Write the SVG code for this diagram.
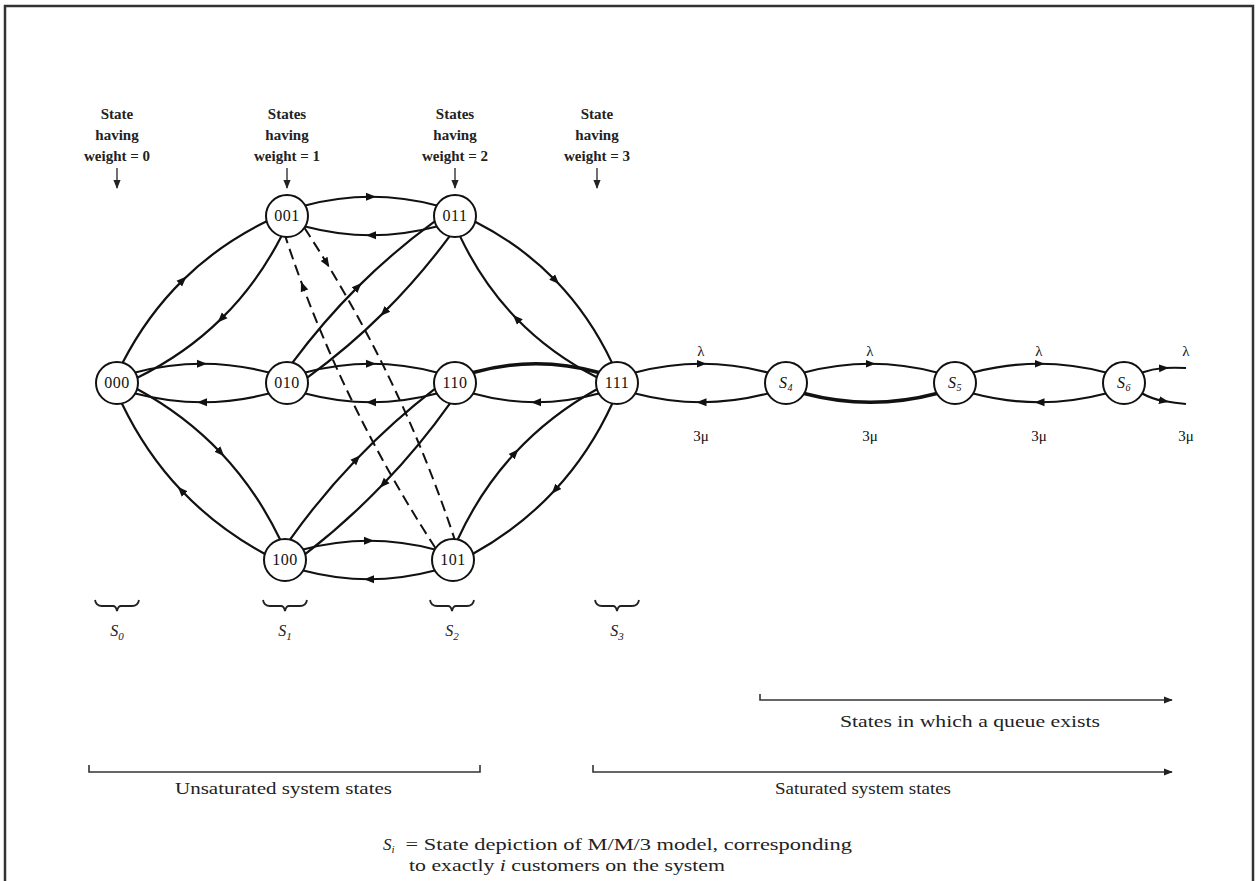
<svg xmlns="http://www.w3.org/2000/svg" width="1256" height="881" viewBox="0 0 1256 881">
<defs>
<marker id="ah" viewBox="0 0 10 10" refX="5" refY="5" markerWidth="10" markerHeight="10" markerUnits="userSpaceOnUse" orient="auto">
<path d="M0,1 L10,5 L0,9 z" fill="#111"/>
</marker>
<marker id="ahEnd" viewBox="0 0 10 10" refX="9" refY="5" markerWidth="9" markerHeight="9" markerUnits="userSpaceOnUse" orient="auto">
<path d="M0,1 L10,5 L0,9 z" fill="#222"/>
</marker>
<style>
.e{fill:none;stroke:#111;stroke-width:2.2;marker-mid:url(#ah)}
.eb{fill:none;stroke:#111;stroke-width:3.4}
.d{fill:none;stroke:#111;stroke-width:2;stroke-dasharray:11 6;marker-mid:url(#ah)}
.n circle{fill:#fff;stroke:#111;stroke-width:2}
.n text{font-family:"Liberation Serif",serif;font-size:16px;letter-spacing:0.5px;text-anchor:middle;fill:#111}
.hd{font-family:"Liberation Serif",serif;font-size:15px;font-weight:bold;text-anchor:middle;fill:#222}
.lb{font-family:"Liberation Serif",serif;font-size:15px;text-anchor:middle;fill:#111}
.big{font-family:"Liberation Serif",serif;font-size:17px;fill:#222}
.st{font-family:"Liberation Serif",serif;font-size:17px;text-anchor:start;fill:#222}
.sm{font-family:"Liberation Serif",serif;font-size:16px;text-anchor:middle;fill:#222}
.pt{fill:none;stroke:#222;stroke-width:1.3}
.br{fill:none;stroke:#222;stroke-width:1.8}
.ax{fill:none;stroke:#333;stroke-width:1.6}
</style>
</defs>
<rect width="1256" height="881" fill="#fff"/>
<path d="M5,881 V6 H1253 V881" fill="none" stroke="#333" stroke-width="2.5"/>

<g id="headers">
<text class="hd" x="117" y="119">State</text>
<text class="hd" x="117" y="140">having</text>
<text class="hd" x="117" y="161">weight = 0</text>
<text class="hd" x="287" y="119">States</text>
<text class="hd" x="287" y="140">having</text>
<text class="hd" x="287" y="161">weight = 1</text>
<text class="hd" x="455" y="119">States</text>
<text class="hd" x="455" y="140">having</text>
<text class="hd" x="455" y="161">weight = 2</text>
<text class="hd" x="597" y="119">State</text>
<text class="hd" x="597" y="140">having</text>
<text class="hd" x="597" y="161">weight = 3</text>
<path class="pt" d="M117,168 V188" marker-end="url(#ahEnd)"/>
<path class="pt" d="M287,168 V188" marker-end="url(#ahEnd)"/>
<path class="pt" d="M455,168 V188" marker-end="url(#ahEnd)"/>
<path class="pt" d="M597,168 V188" marker-end="url(#ahEnd)"/>
</g>

<g id="connectors">
<path class="e" d="M122.6,362.8 Q146.9,315.4 182.9,280.1 Q218.9,244.7 266.7,221.3"/>
<path class="e" d="M281.4,236.2 Q257.1,283.6 221.1,318.9 Q185.1,354.3 137.3,377.7"/>
<path class="e" d="M135.2,372.5 Q168.6,363.75 202,363.75 Q235.4,363.75 268.8,372.5"/>
<path class="e" d="M268.8,393.5 Q235.4,402.25 202,402.25 Q168.6,402.25 135.2,393.5"/>
<path class="e" d="M137.1,389 Q185,415.1 220.8,452.7 Q256.5,490.4 280.1,539.6"/>
<path class="e" d="M264.9,554 Q217,527.9 181.2,490.3 Q145.5,452.6 121.9,403.4"/>
<path class="e" d="M305.2,205.5 Q338.1,196.75 371,196.75 Q403.9,196.75 436.8,205.5"/>
<path class="e" d="M436.8,226.5 Q403.9,235.25 371,235.25 Q338.1,235.25 305.2,226.5"/>
<path class="e" d="M305.2,372.5 Q338.1,363.75 371,363.75 Q403.9,363.75 436.8,372.5"/>
<path class="e" d="M436.8,393.5 Q403.9,402.25 371,402.25 Q338.1,402.25 305.2,393.5"/>
<path class="e" d="M303.2,549.5 Q336.1,540.75 369,540.75 Q401.9,540.75 434.8,549.5"/>
<path class="e" d="M434.8,570.5 Q401.9,579.25 369,579.25 Q336.1,579.25 303.2,570.5"/>
<path class="eb" d="M473.2,372.5 Q504.6,363.75 536,363.75 Q567.4,363.75 598.8,372.5"/>
<path class="e" d="M598.8,393.5 Q567.4,402.25 536,402.25 Q504.6,402.25 473.2,393.5"/>
<path class="e" d="M475.2,221.7 Q521.4,245.3 555.6,280.5 Q589.7,315.8 611.9,362.6"/>
<path class="e" d="M596.8,377.3 Q550.6,353.7 516.4,318.5 Q482.3,283.2 460.1,236.4"/>
<path class="e" d="M457.7,539.5 Q480.2,490.6 515,453 Q549.8,415.4 596.9,389.2"/>
<path class="e" d="M612.3,403.5 Q589.8,452.5 555,490 Q520.2,527.6 473.1,553.8"/>
<path class="e" d="M292.5,362.7 Q322.6,321.9 358.1,286.6 Q393.7,251.2 434.7,221.4"/>
<path class="e" d="M449.5,236.3 Q419.4,277.1 383.9,312.4 Q348.3,347.8 307.3,377.6"/>
<path class="e" d="M290,539.6 Q320.6,496.6 356.8,458.9 Q393,421.2 434.8,388.9"/>
<path class="e" d="M450,403.4 Q419.4,446.5 383.2,484.1 Q347,521.8 305.2,554.2"/>
<path class="d" d="M304.4,227.8 Q315.8,245.3 326.7,263.1 Q406.3,393.5 454.6,539.1"/>
<path class="d" d="M435.6,548.2 Q354.6,424.2 302.8,286.1 Q293.7,261.8 285.5,236.9"/>
<path class="e" d="M635.2,372.5 Q668.3,363.75 701.5,363.75 Q734.7,363.75 767.8,372.5"/>
<path class="e" d="M767.8,393.5 Q734.7,402.25 701.5,402.25 Q668.3,402.25 635.2,393.5"/>
<path class="e" d="M804.2,372.5 Q837.3,363.75 870.5,363.75 Q903.7,363.75 936.8,372.5"/>
<path class="eb" d="M936.8,393.5 Q903.7,402.25 870.5,402.25 Q837.3,402.25 804.2,393.5"/>
<path class="e" d="M973.2,372.5 Q1006.3,363.75 1039.5,363.75 Q1072.7,363.75 1105.8,372.5"/>
<path class="e" d="M1105.8,393.5 Q1072.7,402.25 1039.5,402.25 Q1006.3,402.25 973.2,393.5"/>
<path class="e" d="M1142.2,372.5 Q1152,369 1164,368 Q1175,367.5 1186,368"/>
<path class="e" d="M1142.2,393.5 Q1152,399 1164,401 Q1175,403 1186,404"/>
</g>

<g id="rate-labels">
<text class="lb" x="701" y="356">λ</text>
<text class="lb" x="870" y="356">λ</text>
<text class="lb" x="1039" y="356">λ</text>
<text class="lb" x="1186" y="356">λ</text>
<text class="lb" x="701" y="441">3μ</text>
<text class="lb" x="870" y="441">3μ</text>
<text class="lb" x="1039" y="441">3μ</text>
<text class="lb" x="1186" y="441">3μ</text>
</g>

<g id="n000" class="n"><circle cx="117" cy="383" r="21"/><text x="117" y="388">000</text></g>
<g id="n001" class="n"><circle cx="287" cy="216" r="21"/><text x="287" y="221">001</text></g>
<g id="n010" class="n"><circle cx="287" cy="383" r="21"/><text x="287" y="388">010</text></g>
<g id="n100" class="n"><circle cx="285" cy="560" r="21"/><text x="285" y="565">100</text></g>
<g id="n011" class="n"><circle cx="455" cy="216" r="21"/><text x="455" y="221">011</text></g>
<g id="n110" class="n"><circle cx="455" cy="383" r="21"/><text x="455" y="388">110</text></g>
<g id="n101" class="n"><circle cx="453" cy="560" r="21"/><text x="453" y="565">101</text></g>
<g id="n111" class="n"><circle cx="617" cy="383" r="21"/><text x="617" y="388">111</text></g>
<g id="nS4" class="n"><circle cx="786" cy="383" r="21"/><text x="786" y="388" font-style="italic">S<tspan font-size="10" dy="3">4</tspan></text></g>
<g id="nS5" class="n"><circle cx="955" cy="383" r="21"/><text x="955" y="388" font-style="italic">S<tspan font-size="10" dy="3">5</tspan></text></g>
<g id="nS6" class="n"><circle cx="1124" cy="383" r="21"/><text x="1124" y="388" font-style="italic">S<tspan font-size="10" dy="3">6</tspan></text></g>

<g id="braces">
<path class="br" d="M95,600 Q96,606 102,606 H113 Q116,606 117,611 Q118,606 121,606 H132 Q138,606 139,600"/>
<path class="br" d="M263,600 Q264,606 270,606 H281 Q284,606 285,611 Q286,606 289,606 H300 Q306,606 307,600"/>
<path class="br" d="M430,600 Q431,606 437,606 H448 Q451,606 452,611 Q453,606 456,606 H467 Q473,606 474,600"/>
<path class="br" d="M595,600 Q596,606 602,606 H613 Q616,606 617,611 Q618,606 621,606 H632 Q638,606 639,600"/>
<text class="sm" x="117" y="636" font-style="italic">S<tspan font-size="11" dy="4">0</tspan></text>
<text class="sm" x="285" y="636" font-style="italic">S<tspan font-size="11" dy="4">1</tspan></text>
<text class="sm" x="452" y="636" font-style="italic">S<tspan font-size="11" dy="4">2</tspan></text>
<text class="sm" x="617" y="636" font-style="italic">S<tspan font-size="11" dy="4">3</tspan></text>
</g>

<g id="ranges">
<path class="ax" d="M760,694 V700 H1172" marker-end="url(#ahEnd)"/>
<text class="st" x="840" y="727" textLength="260" lengthAdjust="spacingAndGlyphs">States in which a queue exists</text>
<path class="ax" d="M89,765 V772 H480 V765"/>
<text class="st" x="175" y="794" textLength="217" lengthAdjust="spacingAndGlyphs">Unsaturated system states</text>
<path class="ax" d="M593,765 V772 H1172" marker-end="url(#ahEnd)"/>
<text class="st" x="775" y="794" textLength="176" lengthAdjust="spacingAndGlyphs">Saturated system states</text>
</g>

<g id="caption">
<text class="st" x="383" y="850"><tspan font-style="italic">S</tspan><tspan font-size="11" dy="3" font-style="italic">i</tspan><tspan dy="-3" x="400" textLength="452" lengthAdjust="spacingAndGlyphs"> = State depiction of M/M/3 model, corresponding</tspan></text>
<text class="st" x="409" y="871" textLength="316" lengthAdjust="spacingAndGlyphs">to exactly <tspan font-style="italic">i</tspan> customers on the system</text>
</g>
</svg>
